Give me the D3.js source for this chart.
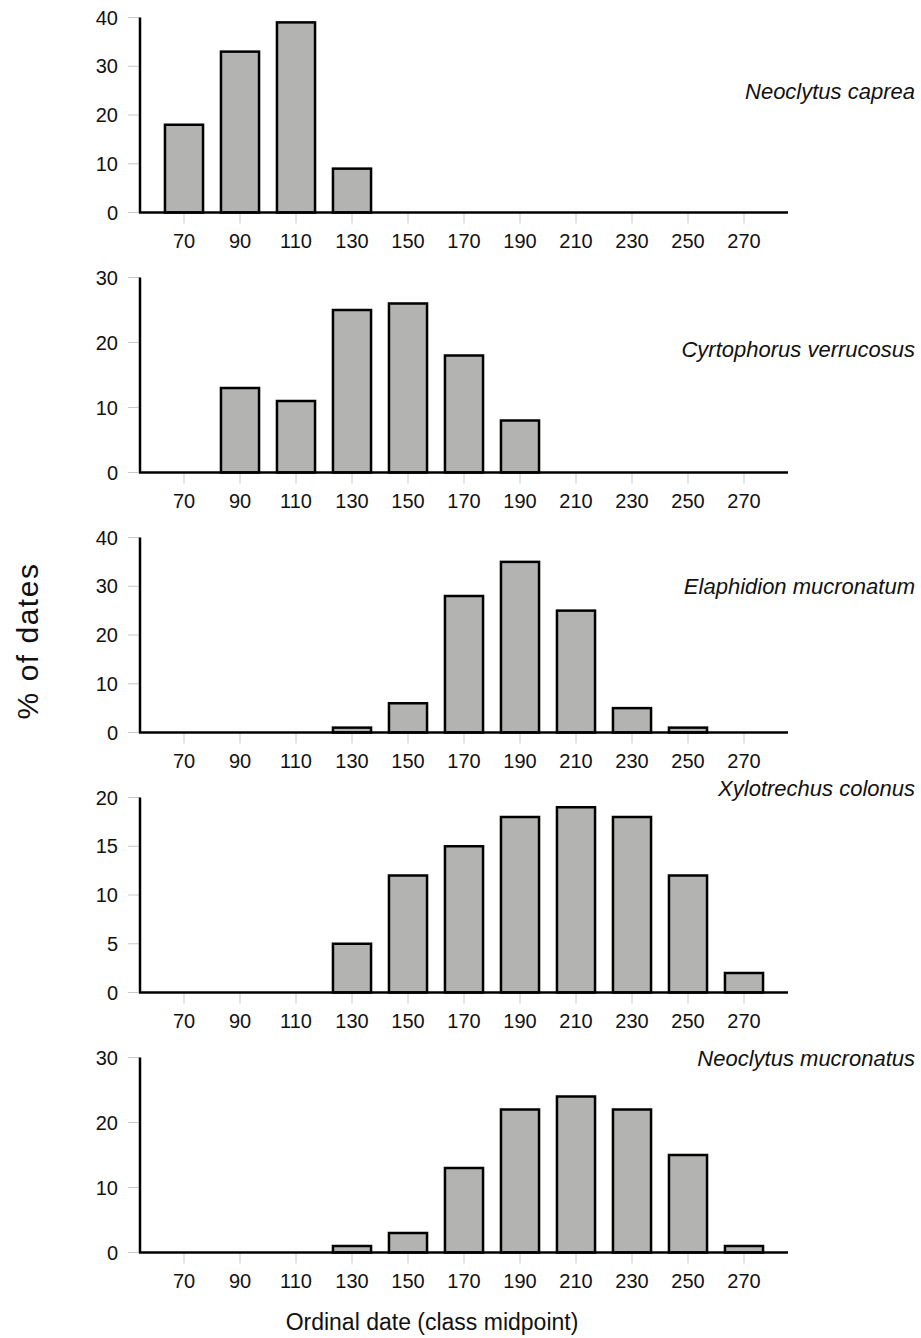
<!DOCTYPE html>
<html>
<head>
<meta charset="utf-8">
<script src="https://cdn.jsdelivr.net/npm/d3@7"></script>
<style>
  body { margin: 0; background: #fff; }
  text { font-family: "Liberation Sans", Arial, sans-serif; }
</style>
</head>
<body>
<script>
// --- Data ---
const classes = [70, 90, 110, 130, 150, 170, 190, 210, 230, 250, 270];
const species = ["Neoclytus caprea", "Cyrtophorus verrucosus", "Elaphidion mucronatum", "Xylotrechus colonus", "Neoclytus mucronatus"];
const caprea      = [18, 33, 39, 9, 0, 0, 0, 0, 0, 0, 0];
const verrucosus  = [0, 13, 11, 25, 26, 18, 8, 0, 0, 0, 0];
const elaphidion  = [0, 0, 0, 1, 6, 28, 35, 25, 5, 1, 0];
const xylotrechus = [0, 0, 0, 5, 12, 15, 18, 19, 18, 12, 2];
const mucronatus  = [0, 0, 0, 1, 3, 13, 22, 24, 22, 15, 1];
const series = [caprea, verrucosus, elaphidion, xylotrechus, mucronatus];
const yMax = [40, 30, 40, 20, 30];
const yStep = [10, 10, 10, 5, 10];

// --- Layout ---
const W = 921, H = 1338;
const AXIS_X0 = 140, AXIS_X1 = 788;
const PANEL_H = 195, PANEL_GAP = 260, ZERO0 = 212.5;
const labelY = [99, 357, 594, 796, 1066]; // baselines of species names

const svg = d3.select("body").append("svg")
  .attr("width", W).attr("height", H);

svg.append("rect").attr("width", W).attr("height", H).attr("fill", "#fff");

const x = d3.scaleBand()
  .domain(classes)
  .range([156, 772])
  .paddingInner(0.32)
  .paddingOuter(0.16);

series.forEach((vals, i) => {
  const zero = ZERO0 + i * PANEL_GAP;
  const y = d3.scaleLinear().domain([0, yMax[i]]).range([zero, zero - PANEL_H]);
  const g = svg.append("g");

  // y ticks (gray) + labels
  const yt = d3.range(0, yMax[i] + 0.001, yStep[i]);
  g.selectAll(".ytick").data(yt).enter().append("line")
    .attr("x1", 128).attr("x2", AXIS_X0)
    .attr("y1", d => y(d)).attr("y2", d => y(d))
    .attr("stroke", "#c8c8c8").attr("stroke-width", 1);
  g.selectAll(".ylab").data(yt).enter().append("text")
    .attr("x", 118).attr("y", d => y(d) + 7)
    .attr("text-anchor", "end")
    .attr("font-size", 20)
    .attr("fill", "#111")
    .text(d => d);

  // x ticks (gray) + labels
  g.selectAll(".xtick").data(classes).enter().append("line")
    .attr("x1", d => x(d) + x.bandwidth() / 2).attr("x2", d => x(d) + x.bandwidth() / 2)
    .attr("y1", zero).attr("y2", zero + 11)
    .attr("stroke", "#c8c8c8").attr("stroke-width", 1);
  g.selectAll(".xlab").data(classes).enter().append("text")
    .attr("x", d => x(d) + x.bandwidth() / 2).attr("y", zero + 35)
    .attr("text-anchor", "middle")
    .attr("font-size", 20)
    .attr("fill", "#111")
    .text(d => d);

  // bars
  g.selectAll(".bar").data(classes.map((c, k) => ({ c, v: vals[k] })).filter(d => d.v > 0))
    .enter().append("rect")
    .attr("x", d => x(d.c))
    .attr("y", d => y(d.v))
    .attr("width", x.bandwidth())
    .attr("height", d => zero - y(d.v))
    .attr("fill", "#b3b4b1")
    .attr("stroke", "#000").attr("stroke-width", 2.5);

  // axes
  g.append("line")
    .attr("x1", AXIS_X0).attr("x2", AXIS_X0)
    .attr("y1", y(yMax[i])).attr("y2", zero)
    .attr("stroke", "#000").attr("stroke-width", 2.5);
  g.append("line")
    .attr("x1", AXIS_X0 - 1).attr("x2", AXIS_X1)
    .attr("y1", zero).attr("y2", zero)
    .attr("stroke", "#000").attr("stroke-width", 2.5);

  // species name
  g.append("text")
    .attr("x", 915).attr("y", labelY[i])
    .attr("text-anchor", "end")
    .attr("font-size", 22)
    .attr("font-style", "italic")
    .attr("fill", "#111")
    .text(species[i]);
});

// axis titles
svg.append("text")
  .attr("x", 432).attr("y", 1330)
  .attr("text-anchor", "middle")
  .attr("font-size", 23)
  .attr("fill", "#111")
  .text("Ordinal date (class midpoint)");

svg.append("text")
  .attr("transform", "translate(38,641) rotate(-90)")
  .attr("text-anchor", "middle")
  .attr("font-size", 30)
  .attr("letter-spacing", 1.5)
  .attr("fill", "#111")
  .text("% of dates");
</script>
</body>
</html>
